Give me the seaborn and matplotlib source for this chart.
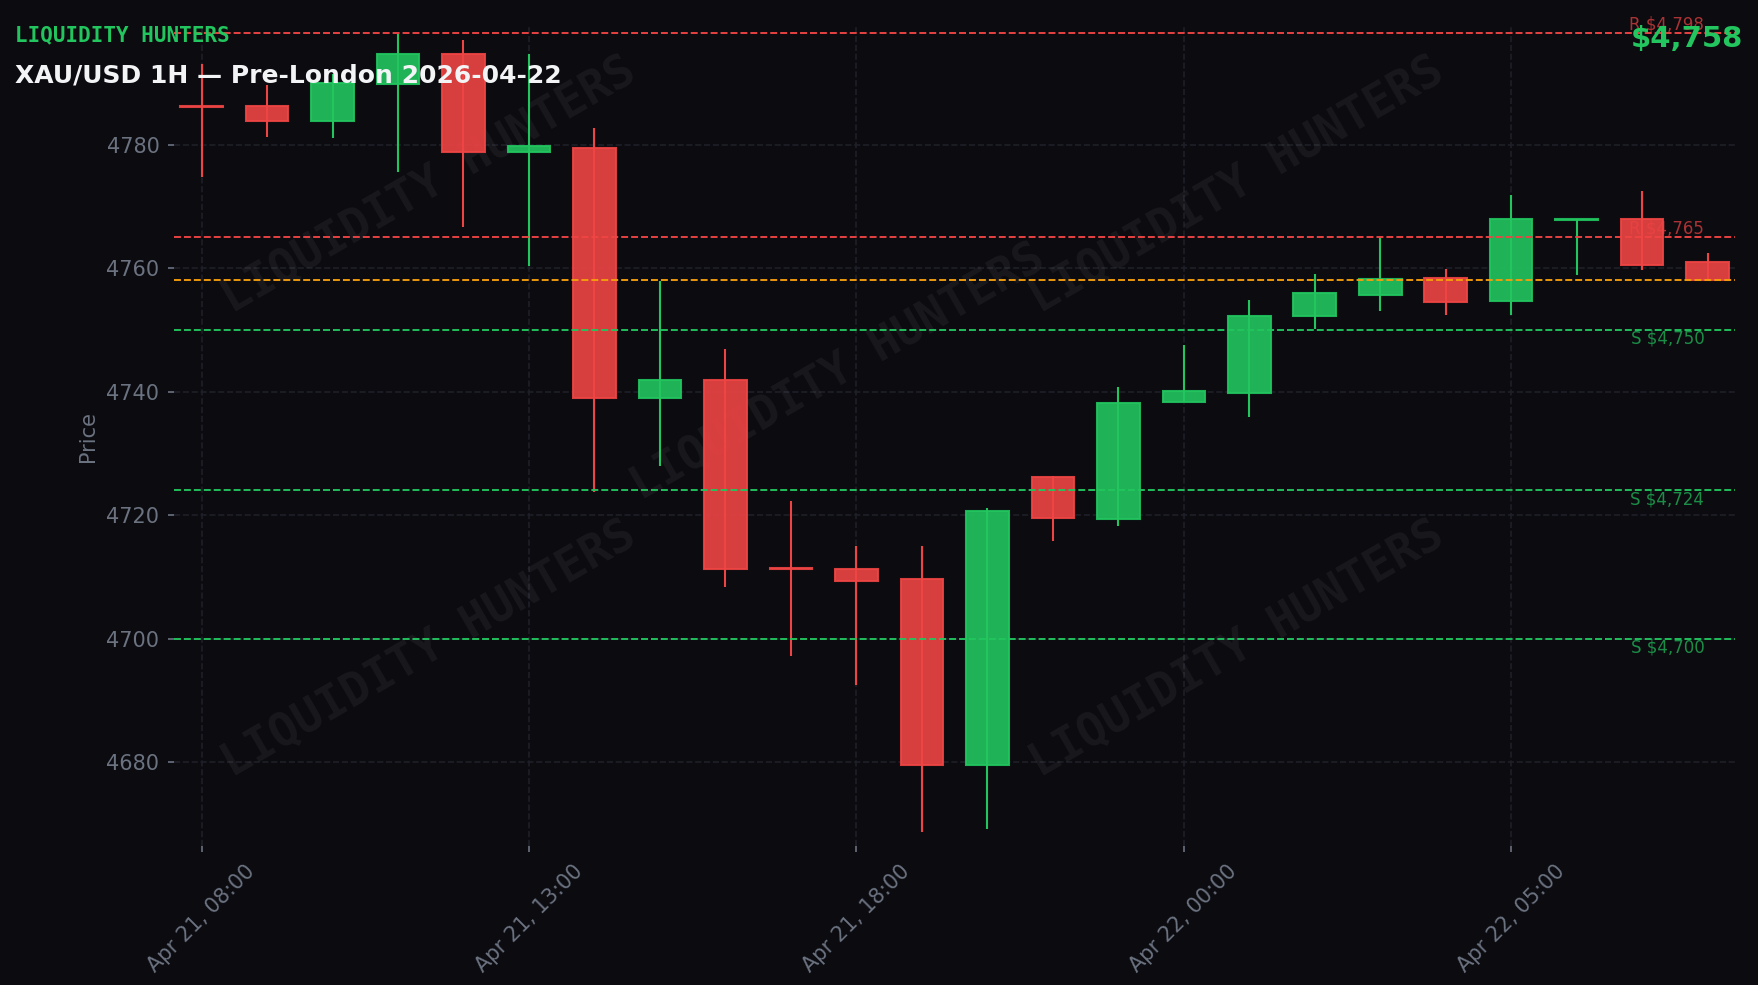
import pandas as pd
import numpy as np
import matplotlib
matplotlib.use("Agg")
import matplotlib.pyplot as plt
import seaborn as sns
from matplotlib.ticker import MultipleLocator

# XAU/USD 1H candles (23:00 daily break skipped)
times = [
    "2026-04-21 08:00", "2026-04-21 09:00", "2026-04-21 10:00", "2026-04-21 11:00",
    "2026-04-21 12:00", "2026-04-21 13:00", "2026-04-21 14:00", "2026-04-21 15:00",
    "2026-04-21 16:00", "2026-04-21 17:00", "2026-04-21 18:00", "2026-04-21 19:00",
    "2026-04-21 20:00", "2026-04-21 21:00", "2026-04-21 22:00", "2026-04-22 00:00",
    "2026-04-22 01:00", "2026-04-22 02:00", "2026-04-22 03:00", "2026-04-22 04:00",
    "2026-04-22 05:00", "2026-04-22 06:00", "2026-04-22 07:00", "2026-04-22 08:00",
]
opens = [4786.2, 4786.3, 4783.8, 4789.8, 4794.7, 4778.8, 4779.4, 4739.0,
         4741.9, 4711.3, 4711.3, 4709.7, 4679.5, 4726.2, 4719.4, 4738.3,
         4739.8, 4752.3, 4755.7, 4758.4, 4754.7, 4767.7, 4768.0, 4760.9]
highs = [4793.0, 4789.7, 4791.5, 4797.9, 4797.0, 4794.6, 4782.6, 4757.9,
         4746.9, 4722.2, 4715.0, 4715.0, 4721.1, 4726.4, 4740.7, 4747.5,
         4754.8, 4759.0, 4764.9, 4759.8, 4771.9, 4767.9, 4772.4, 4762.4]
lows = [4774.7, 4781.3, 4781.0, 4775.5, 4766.6, 4760.3, 4723.8, 4728.0,
        4708.4, 4697.2, 4692.5, 4668.7, 4669.2, 4715.8, 4718.2, 4738.3,
        4735.9, 4750.1, 4753.1, 4752.4, 4752.4, 4758.8, 4759.7, 4758.0]
closes = [4786.0, 4783.8, 4790.0, 4794.7, 4778.8, 4779.7, 4739.0, 4741.9,
          4711.2, 4711.2, 4709.4, 4679.5, 4720.7, 4719.6, 4738.2, 4740.1,
          4752.3, 4756.0, 4758.2, 4754.5, 4768.0, 4767.9, 4760.5, 4758.0]

resistance = [4798, 4765]
support = [4750, 4724, 4700]
current_price = 4758
tick_step = 5

BG = "#0b0b10"
GREEN = "#22c55e"
RED = "#ef4444"
ORANGE = "#f59e0b"
GRAY = "#6b7280"
GRID = "#1e1f28"

df = pd.DataFrame({"time": pd.to_datetime(times), "open": opens, "high": highs,
                   "low": lows, "close": closes})
df["x"] = np.arange(len(df))
df["up"] = df["close"] >= df["open"]

sns.set_theme(style="darkgrid", rc={
    "figure.facecolor": BG, "axes.facecolor": BG, "axes.edgecolor": BG,
    "grid.color": GRID, "grid.linestyle": "--", "grid.linewidth": 0.8,
    "text.color": GRAY, "axes.labelcolor": GRAY,
    "xtick.color": GRAY, "ytick.color": GRAY,
})
plt.rcParams["font.family"] = ["DejaVu Sans"]

fig = plt.figure(figsize=(11.72, 6.567), dpi=150)
ax = fig.add_axes([0.099, 0.141, 0.888, 0.8326])

# watermark
for wx, wy in [(0.163, 0.806), (0.425, 0.578), (0.681, 0.806), (0.163, 0.24), (0.681, 0.24)]:
    ax.text(wx, wy, "LIQUIDITY HUNTERS", transform=ax.transAxes, rotation=30,
            ha="center", va="center", fontsize=22, fontweight="bold",
            family="DejaVu Sans Mono", color="white", alpha=0.055, zorder=1)

colors = np.where(df["up"], GREEN, RED)
ax.vlines(df["x"], df["low"], df["high"], colors=colors, linewidth=1.0, zorder=2)
body_lo = df[["open", "close"]].min(axis=1)
body_h = (df["close"] - df["open"]).abs().clip(lower=0.2)
ax.bar(df["x"], body_h, bottom=body_lo, width=0.65, color=colors, alpha=0.9,
       edgecolor=colors, linewidth=1.0, zorder=3)

# key levels
label_x = df["x"].iloc[-1] - 0.05
for lvl in resistance:
    ax.axhline(lvl, color=RED, linewidth=0.9, linestyle="--", zorder=4)
    ax.text(label_x, lvl, f"R ${lvl:,}", color=RED, alpha=0.7, fontsize=8,
            ha="right", va="bottom", zorder=5)
for lvl in support:
    ax.axhline(lvl, color=GREEN, linewidth=0.9, linestyle="--", zorder=4)
    ax.text(label_x, lvl, f"S ${lvl:,}", color=GREEN, alpha=0.7, fontsize=8,
            ha="right", va="top", zorder=5)
ax.axhline(current_price, color=ORANGE, linewidth=0.9, linestyle="--", zorder=4)

ax.set_xlim(-0.42, len(df) - 0.58)
ax.set_ylim(4666.4, 4799.2)
ax.yaxis.set_major_locator(MultipleLocator(20))
tick_idx = df["x"][::tick_step]
ax.set_xticks(tick_idx)
ax.set_xticklabels(df["time"][::tick_step].dt.strftime("%b %d, %H:%M"),
                   rotation=45, ha="center")
ax.tick_params(axis="both", labelsize=10, length=3, width=0.8, pad=4, colors=GRAY)
ax.tick_params(bottom=True, left=True)
ax.set_ylabel("Price", fontsize=10, color=GRAY)
ax.set_xlabel("")
for s in ax.spines.values():
    s.set_visible(False)

fig.text(0.0083, 0.9636, "LIQUIDITY HUNTERS", family="DejaVu Sans Mono",
         fontweight="bold", fontsize=10, color=GREEN, ha="left", va="center")
fig.text(0.0083, 0.9237, "XAU/USD 1H — Pre-London 2026-04-22", fontweight="bold",
         fontsize=12, color="#f3f4f6", ha="left", va="center")
fig.text(0.9915, 0.960, f"${current_price:,}", fontweight="bold", fontsize=14,
         color=GREEN, ha="right", va="center")

fig.savefig("out.png", dpi=150, facecolor=BG)
